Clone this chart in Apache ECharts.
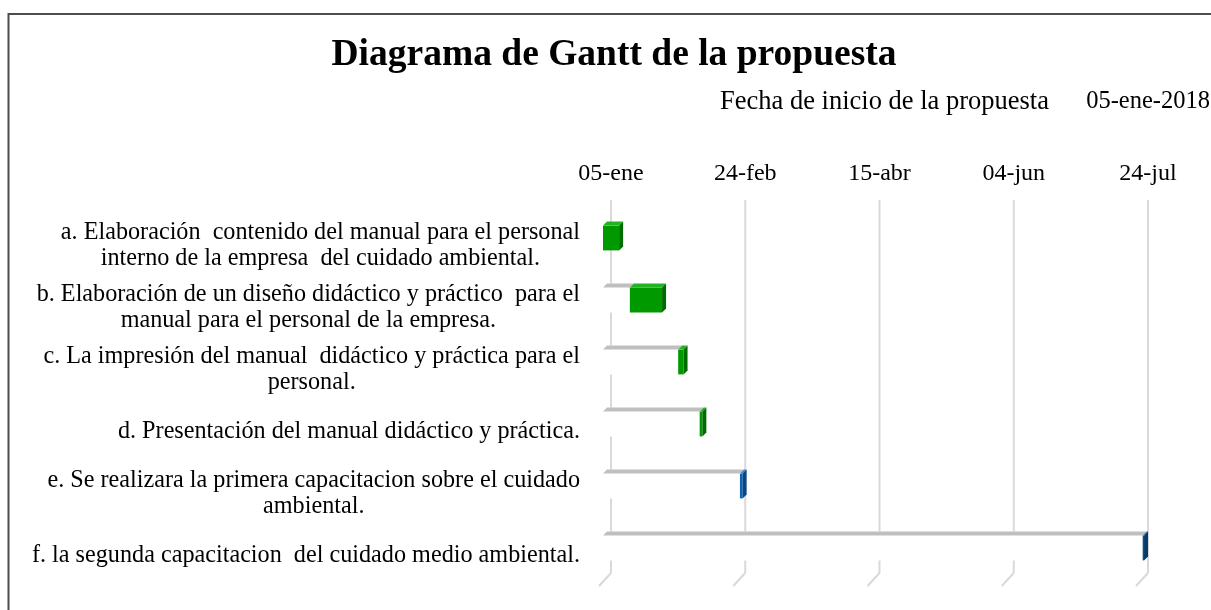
<!DOCTYPE html>
<html><head><meta charset="utf-8">
<script src="https://cdn.jsdelivr.net/npm/echarts@6/dist/echarts.min.js"></script>
<style>html,body{margin:0;padding:0;background:#fff}#c{width:1211px;height:610px}</style>
</head><body><div id="c"></div>
<script>
const chartTitle = 'Diagrama de Gantt de la propuesta';
const subtitleLabel = 'Fecha de inicio de la propuesta';
const subtitleDate = '05-ene-2018';
const categories = [
  'a. Elaboración  contenido del manual para el personal\ninterno de la empresa  del cuidado ambiental.',
  'b. Elaboración de un diseño didáctico y práctico  para el\nmanual para el personal de la empresa.',
  'c. La impresión del manual  didáctico y práctica para el\npersonal.',
  'd. Presentación del manual didáctico y práctica.',
  'e. Se realizara la primera capacitacion sobre el cuidado\nambiental.',
  'f. la segunda capacitacion  del cuidado medio ambiental.'
];
const startDays = [0, 10, 28, 36, 51, 201];       // days after 05-ene-2018
const durationDays = [6, 12, 2, 1, 1, 0.5];
const tickValues = [0, 50, 100, 150, 200];
const tickLabels = ['05-ene', '24-feb', '15-abr', '04-jun', '24-jul'];

// styles (kept apart from data)
const palette = [
  ['#009a00', '#22b322', '#006b00'],
  ['#009a00', '#22b322', '#006b00'],
  ['#009a00', '#22b322', '#006b00'],
  ['#009a00', '#22b322', '#006b00'],
  ['#0e63b3', '#3a85cc', '#0a4683'],
  ['#0b4f90', '#2d6fae', '#063a6b']
];
const FONT = '"Liberation Serif", "Times New Roman", serif';
const GRID_COLOR = '#d9d9d9';
const FRONT_OFF = 8, DEPTH = 4;

const chart = echarts.init(document.getElementById('c'), null, {renderer: 'canvas'});

function renderGrid(params, api) {
  const cs = params.coordSys;
  const x = api.coord([api.value(0), 0])[0];
  const top = cs.y - 7;
  const bot = cs.y + cs.height - 6;
  return {
    type: 'group',
    children: [
      {type: 'line', shape: {x1: x, y1: top, x2: x, y2: bot}, style: {stroke: GRID_COLOR, lineWidth: 2}},
      {type: 'line', shape: {x1: x, y1: bot, x2: x - 12, y2: bot + 13}, style: {stroke: GRID_COLOR, lineWidth: 2}}
    ]
  };
}

function renderTask(params, api) {
  const idx = params.dataIndex;
  const cat = api.value(0), s = api.value(1), d = api.value(2);
  const p0 = api.coord([0, cat]);
  const ps = api.coord([s, cat]);
  const pe = api.coord([s + d, cat]);
  const h = api.size([0, 1])[1] * 0.4;
  const yt = p0[1] - h / 2, yb = p0[1] + h / 2;
  const x0 = p0[0] - FRONT_OFF, xs = ps[0] - FRONT_OFF, xe = pe[0] - FRONT_OFF;
  const col = palette[idx];
  const children = [];
  if (xs > x0 + 0.5) {
    children.push({type: 'polygon', shape: {points: [[x0, yb], [x0, yt], [x0 + DEPTH, yt - DEPTH], [xs + DEPTH, yt - DEPTH], [xs + DEPTH, yb - DEPTH], [xs, yb]]}, style: {fill: '#ffffff'}});
    children.push({type: 'polygon', shape: {points: [[x0, yt], [x0 + DEPTH, yt - DEPTH], [xs + DEPTH, yt - DEPTH], [xs, yt]]}, style: {fill: '#bfbfbf'}});
  }
  children.push({type: 'rect', shape: {x: xs, y: yt, width: Math.max(xe - xs, 1), height: h}, style: {fill: col[0]}});
  children.push({type: 'polygon', shape: {points: [[xs, yt], [xs + DEPTH, yt - DEPTH], [xe + DEPTH, yt - DEPTH], [xe, yt]]}, style: {fill: col[1]}});
  children.push({type: 'polygon', shape: {points: [[xe, yt], [xe + DEPTH, yt - DEPTH], [xe + DEPTH, yb - DEPTH], [xe, yb]]}, style: {fill: col[2]}});
  return {type: 'group', children: children};
}

const option = {
  backgroundColor: '#ffffff',
  animation: false,
  graphic: [
    {type: 'rect', shape: {x: 8.5, y: 14, width: 1230, height: 640}, style: {fill: 'none', stroke: '#4d4d4d', lineWidth: 2}, silent: true},
    {type: 'text', x: 614, y: 55, style: {text: chartTitle, font: 'bold 37.5px ' + FONT, fill: '#000', align: 'center', verticalAlign: 'middle'}},
    {type: 'text', x: 720, y: 102, style: {text: subtitleLabel, font: '26.5px ' + FONT, fill: '#000', align: 'left', verticalAlign: 'middle'}},
    {type: 'text', x: 1210, y: 102, style: {text: subtitleDate, font: '24.5px ' + FONT, fill: '#000', align: 'right', verticalAlign: 'middle'}}
  ],
  grid: {left: 611, right: 63, top: 207, bottom: 31, containLabel: false},
  xAxis: {
    type: 'value', position: 'top', min: 0, max: 200, interval: 50,
    axisLine: {show: false}, axisTick: {show: false}, splitLine: {show: false},
    axisLabel: {
      margin: 21, fontSize: 24, fontFamily: FONT, color: '#000',
      formatter: function (v) { const i = tickValues.indexOf(v); return i >= 0 ? tickLabels[i] : ''; }
    }
  },
  yAxis: {
    type: 'category', inverse: true, data: categories,
    axisLine: {show: false}, axisTick: {show: false}, splitLine: {show: false},
    axisLabel: {
      interval: 0, hideOverlap: false,
      margin: 31, fontSize: 24.2, lineHeight: 26, fontFamily: FONT, color: '#000',
      align: 'right', padding: [15, 0, 0, 0],
      formatter: function (v) { return v.split('\n').map(function (l) { return '{c|' + l + '}'; }).join('\n'); },
      rich: {c: {align: 'center', fontSize: 24.2, lineHeight: 26, fontFamily: FONT, color: '#000'}}
    }
  },
  series: [
    {
      type: 'custom', name: 'grid', silent: true, z: 1, clip: false,
      renderItem: renderGrid,
      encode: {x: 0, y: 1},
      data: tickValues.map(function (v) { return [v, 0]; })
    },
    {
      type: 'custom', name: 'tareas', z: 2, clip: false,
      renderItem: renderTask,
      encode: {x: [1, 2], y: 0},
      data: categories.map(function (c, i) { return [i, startDays[i], durationDays[i]]; })
    }
  ]
};
chart.setOption(option);
</script>
</body></html>
